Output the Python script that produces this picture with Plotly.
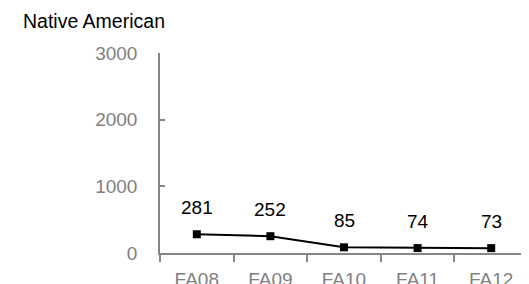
import plotly.graph_objects as go

categories = ["FA08", "FA09", "FA10", "FA11", "FA12"]
values = [281, 252, 85, 74, 73]
y_ticks = [0, 1000, 2000, 3000]

FONT = "Liberation Sans"
GRAY = "#868686"

# page body has an 8px margin, so the figure is sized to fit the window
W, H = 521, 276

fig = go.Figure()
fig.add_trace(go.Scatter(
    x=categories, y=values, mode="lines+markers",
    line=dict(color="black", width=2),
    marker=dict(symbol="square", size=8, color="black"),
    hoverinfo="skip", showlegend=False,
))
for c, v in zip(categories, values):
    fig.add_annotation(x=c, y=v, text=str(v), showarrow=False,
                       yshift=27, font=dict(family=FONT, size=19, color="black"))

fig.update_layout(
    width=W, height=H,
    margin=dict(l=152, r=1, t=45, b=31),
    paper_bgcolor="white", plot_bgcolor="white",
    font=dict(family=FONT),
    title=dict(text="Native American", x=15/W, xanchor="left", y=1 - 13/H, yanchor="middle",
               font=dict(family=FONT, size=19.5, color="black")),
)
fig.update_xaxes(
    type="category", range=[-0.5, 4.5], tickson="boundaries", automargin=False,
    showline=True, linecolor=GRAY, linewidth=1.5,
    ticks="outside", ticklen=7, tickcolor=GRAY, tickwidth=1.5,
    showgrid=False, zeroline=False, ticklabelstandoff=8,
    tickfont=dict(family=FONT, size=19, color="#7f7f7f"),
)
fig.update_yaxes(
    range=[0, 3000], tickvals=y_ticks, automargin=False,
    showline=True, linecolor=GRAY, linewidth=1.5,
    ticks="inside", ticklen=5, tickcolor=GRAY, tickwidth=1.5,
    showgrid=False, zeroline=False, ticklabelstandoff=17,
    tickfont=dict(family=FONT, size=19, color="#7f7f7f"),
)
fig.write_html("out.html")
